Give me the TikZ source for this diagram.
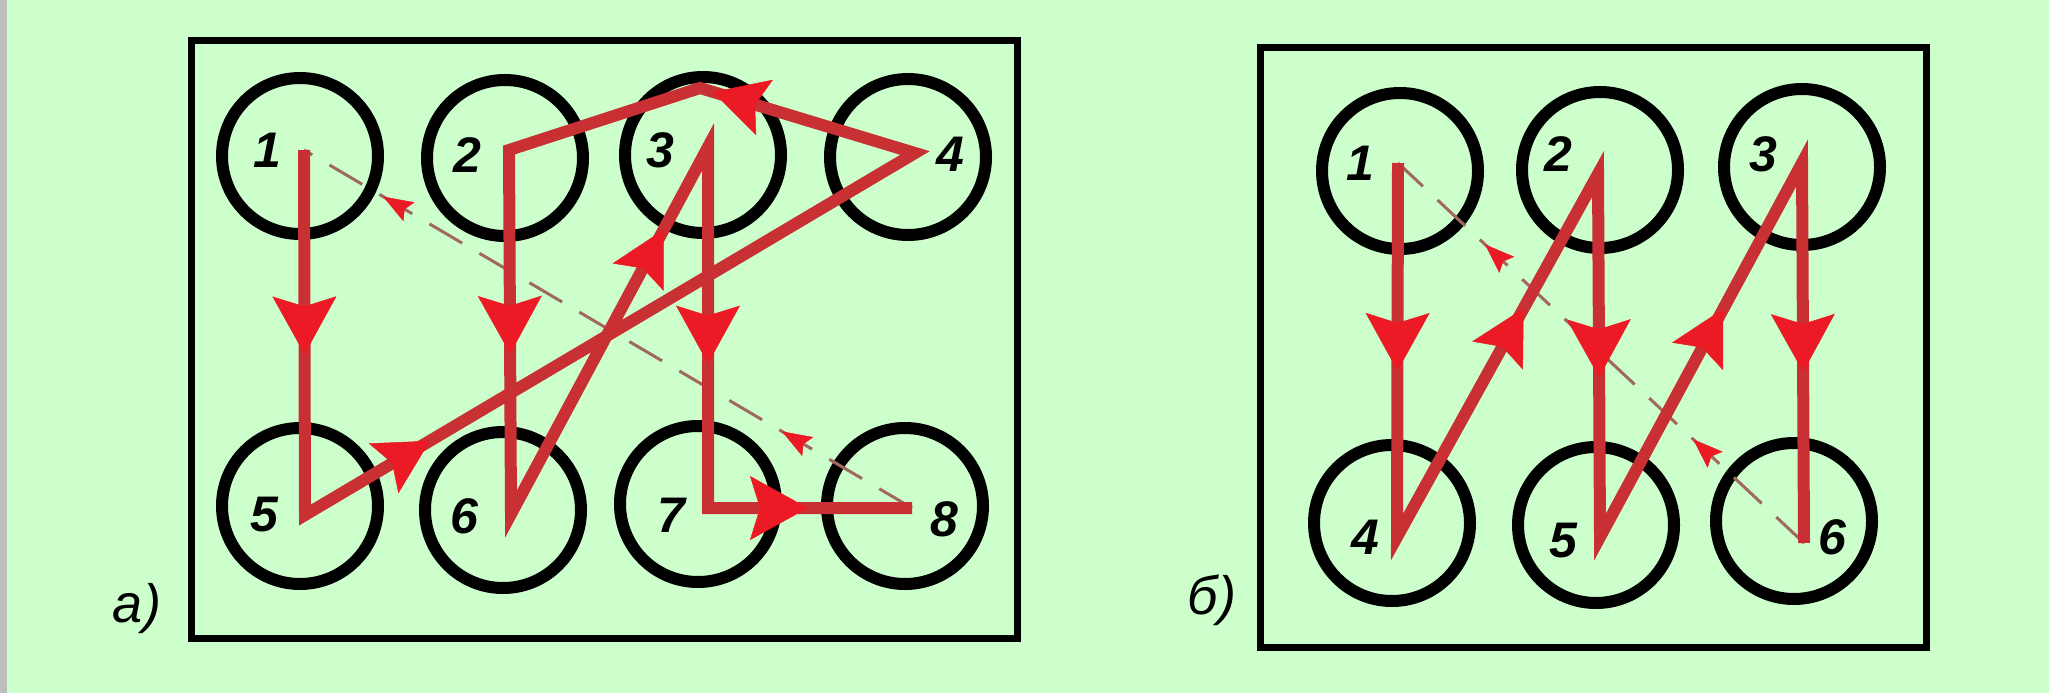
\documentclass[tikz,border=0pt]{standalone}
\usepackage{fontspec}
\setmainfont{Liberation Sans}
\usetikzlibrary{arrows.meta,decorations.markings}
\definecolor{bg}{RGB}{204,255,204}
\definecolor{strip}{RGB}{190,190,190}
\definecolor{lred}{RGB}{200,48,52}
\definecolor{hred}{RGB}{236,26,36}
\definecolor{dashc}{RGB}{160,105,95}
\tikzset{
 ring/.style={circle, draw=black, line width=12pt, minimum size=156pt, inner sep=0pt},
 num/.style={font=\fontsize{50}{50}\selectfont\bfseries\itshape, inner sep=0pt},
 lab/.style={font=\fontsize{54}{54}\selectfont\itshape, inner sep=0pt},
 frame/.style={draw=black, line width=7pt},
 route/.style={draw=lred, line width=12pt, line join=miter},
 dline/.style={draw=dashc, line width=3pt, dash pattern=on 38pt off 20pt},
 bigarr/.style={postaction={decorate},decoration={markings,mark=at position #1 with {\arrow{Stealth[length=58pt,width=64pt,inset=10pt,line width=0.5pt,color=hred]}}}},
 midarr/.style={postaction={decorate},decoration={markings,mark=at position #1 with {\arrow{Stealth[length=54pt,width=58pt,inset=10pt,line width=0.5pt,color=hred]}}}},
 smallarr/.style 2 args={postaction={decorate},decoration={markings,
   mark=at position #1 with {\arrow{Stealth[length=30pt,width=22pt,inset=5pt,line width=0.5pt,color=hred]}},
   mark=at position #2 with {\arrow{Stealth[length=30pt,width=22pt,inset=5pt,line width=0.5pt,color=hred]}}}},
}
\begin{document}
\begin{tikzpicture}[x=1pt,y=-1pt]
\fill[bg] (0,0) rectangle (2049,693);
\useasboundingbox (0,0) rectangle (2049,693);
\fill[strip] (0,0) rectangle (7,693);
% frames
\draw[frame] (191,41) rectangle (1017,638);
\draw[frame] (1260,48) rectangle (1926,647);
% circles (a)
\node[ring] (A1) at (300,156) {};
\node[ring] (A2) at (505,158) {};
\node[ring] (A3) at (703,155) {};
\node[ring] (A4) at (908,157) {};
\node[ring] (A5) at (300,506) {};
\node[ring] (A6) at (503,510) {};
\node[ring] (A7) at (698,504) {};
\node[ring] (A8) at (905,506) {};
% circles (b)
\node[ring] (B1) at (1400,171) {};
\node[ring] (B2) at (1600,170) {};
\node[ring] (B3) at (1802,167) {};
\node[ring] (B4) at (1392,523) {};
\node[ring] (B5) at (1596,525) {};
\node[ring] (B6) at (1794,521) {};
% route points (a)
\coordinate (a1) at (304,150);
\coordinate (a5) at (305,515);
\coordinate (a4) at (915,153);
\coordinate (aap) at (700,88);
\coordinate (a2) at (509,150);
\coordinate (a6) at (511,514);
\coordinate (a3) at (708,147);
\coordinate (a7) at (708,508);
\coordinate (a8) at (912,508);
% route points (b)
\coordinate (b1) at (1398,163);
\coordinate (b4) at (1397,537);
\coordinate (b2) at (1598,174);
\coordinate (b5) at (1600,537);
\coordinate (b3) at (1802,163);
\coordinate (b6) at (1804,543);
% dashed returns
\draw[dline] (a8) -- (a1);
\path[smallarr={0.214}{0.87}] (a8) -- (a1);
\draw[dline] (b6) -- (b1);
\path[smallarr={0.273}{0.786}] (b6) -- (b1);
% routes
\draw[route] (a1) -- (a5) -- (a4) -- (aap) -- (a2) -- (a6) -- (a3) -- (a7) -- (a8);
\draw[route] (b1) -- (b4) -- (b2) -- (b5) -- (b3) -- (b6);
% arrow heads (a)
\path[bigarr=0.56] (a1) -- (a5);
\path[midarr=0.205] (a5) -- (a4);
\path[midarr=0.94] (a4) -- (aap);
\path[bigarr=0.56] (a2) -- (a6);
\path[midarr=0.775] (a6) -- (a3);
\path[bigarr=0.6] (a3) -- (a7);
\path[bigarr=0.49] (a7) -- (a8);
% arrow heads (b)
\path[bigarr=0.556] (b1) -- (b4);
\path[midarr=0.63] (b4) -- (b2);
\path[bigarr=0.56] (b2) -- (b5);
\path[midarr=0.61] (b5) -- (b3);
\path[bigarr=0.55] (b3) -- (b6);
% numbers (a)
\node[num] (n1) at (267,150) {1};
\node[num] (n2) at (467,155) {2};
\node[num] (n3) at (660,150) {3};
\node[num] (n4) at (950,154) {4};
\node[num] (n5) at (264,515) {5};
\node[num] (n6) at (464,516) {6};
\node[num] (n7) at (671,515) {7};
\node[num] (n8) at (944,519) {8};
% numbers (b)
\node[num] (m1) at (1360,163) {1};
\node[num] (m2) at (1558,154) {2};
\node[num] (m3) at (1763,154) {3};
\node[num] (m4) at (1365,537) {4};
\node[num] (m5) at (1563,541) {5};
\node[num] (m6) at (1832,537) {6};
% panel labels
\node[lab] (la) at (137,609) {а)};
\node[lab] (lb) at (1212,600) {б)};
\end{tikzpicture}
\end{document}
